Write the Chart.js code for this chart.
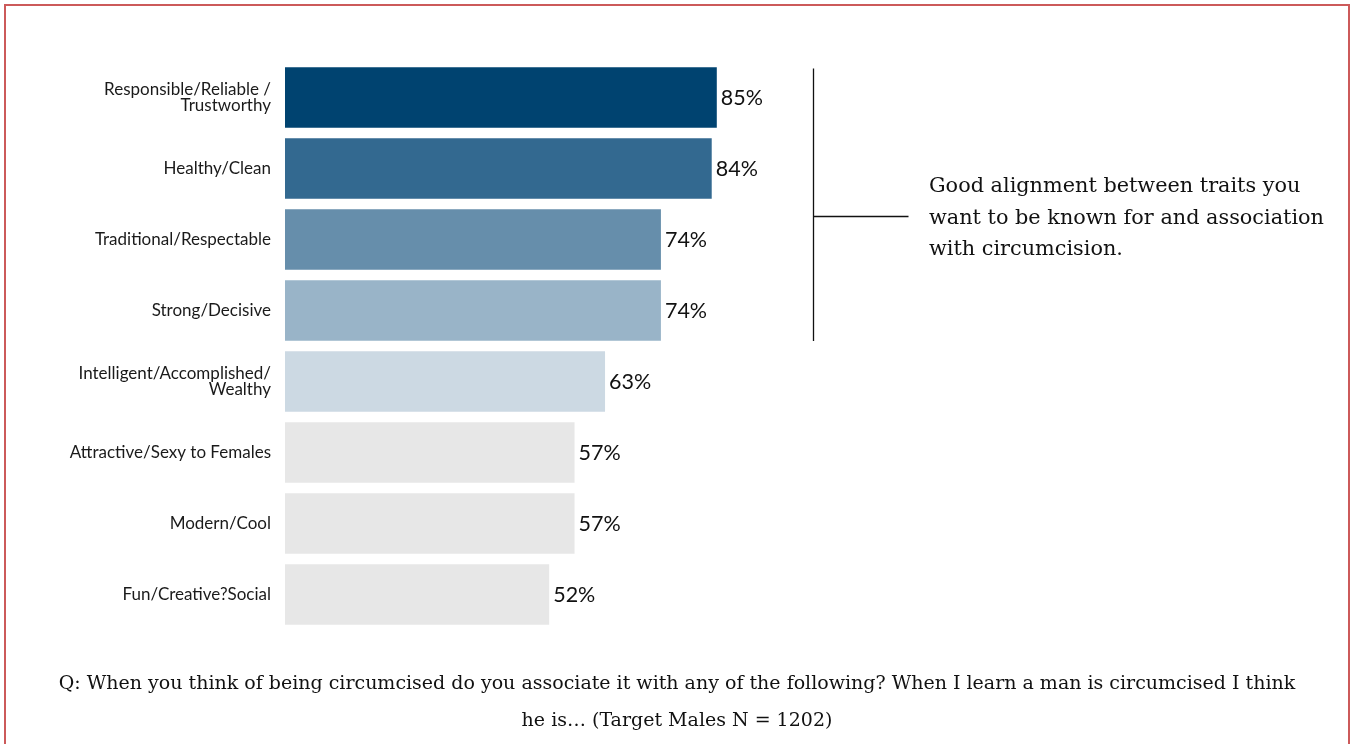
<!DOCTYPE html>
<html>
<head>
<meta charset="utf-8">
<script src="https://cdn.jsdelivr.net/npm/chart.js@4.4.0/dist/chart.umd.min.js"></script>
<style>
  html, body { margin: 0; padding: 0; background: #fff; }
  body { width: 1354px; height: 744px; position: relative; overflow: hidden; }
  #frame { position: absolute; left: 4px; top: 4px; width: 1346px; height: 800px; border: 2px solid #cc5a5a; box-sizing: border-box; }
  #wrap { position: absolute; left: 0; top: 0; width: 1354px; height: 744px; }
  #note { position: absolute; left: 929px; top: 170px; width: 420px; font-family: "DejaVu Serif", serif; font-size: 20.8px; line-height: 31.5px; color: #111; }
  #caption { position: absolute; left: 0; top: 664px; width: 1354px; text-align: center; font-family: "DejaVu Serif", serif; font-size: 19px; line-height: 37px; color: #111; }
</style>
</head>
<body>
<div id="frame"></div>
<div id="wrap"><canvas id="grafico" width="1354" height="744"></canvas></div>
<div id="note">Good alignment between traits you<br>want to be known for and association<br>with circumcision.</div>
<div id="caption">Q: When you think of being circumcised do you associate it with any of the following? When I learn a man is circumcised I think<br>he is… (Target Males N = 1202)</div>
<script>
// Dados do gráfico
const categorias = [
  ["Responsible/Reliable /", "Trustworthy"],
  "Healthy/Clean",
  "Traditional/Respectable",
  "Strong/Decisive",
  ["Intelligent/Accomplished/", "Wealthy"],
  "Attractive/Sexy to Females",
  "Modern/Cool",
  "Fun/Creative?Social"
];
const valores = [85, 84, 74, 74, 63, 57, 57, 52];
const cores = ["#004370", "#336990", "#668eab", "#99b4c8", "#ccd9e3", "#e7e7e7", "#e7e7e7", "#e7e7e7"];

// Rótulos de valor no fim das barras
const rotulos = {
  id: 'rotulos',
  afterDatasetsDraw(chart) {
    const ctx = chart.ctx;
    const meta = chart.getDatasetMeta(0);
    ctx.save();
    ctx.font = '21.5px Lato';
    ctx.fillStyle = '#111';
    ctx.textAlign = 'left';
    ctx.textBaseline = 'middle';
    meta.data.forEach((bar, i) => {
      ctx.fillText(valores[i] + '%', bar.x + 4, bar.y + 1);
    });
    ctx.restore();
  }
};

// Colchete de destaque (primeiros quatro itens)
const colchete = {
  id: 'colchete',
  afterDraw(chart) {
    const ctx = chart.ctx;
    const y = chart.scales.y;
    const x = chart.scales.x;
    const passo = y.getPixelForValue(1) - y.getPixelForValue(0);
    const topo = y.getPixelForValue(0) - passo * 0.41;
    const base = y.getPixelForValue(3) + passo * 0.43;
    const xl = Math.round(x.getPixelForValue(103.9)) + 0.5;
    const meio = Math.round(topo + (base - topo) * 0.54) + 0.5;
    ctx.save();
    ctx.strokeStyle = '#111';
    ctx.lineWidth = 1.3;
    ctx.beginPath();
    ctx.moveTo(xl, topo);
    ctx.lineTo(xl, base);
    ctx.moveTo(xl, meio);
    ctx.lineTo(xl + 95, meio);
    ctx.stroke();
    ctx.restore();
  }
};

new Chart(document.getElementById('grafico'), {
  type: 'bar',
  data: {
    labels: categorias,
    datasets: [{
      data: valores,
      backgroundColor: cores,
      borderWidth: 0,
      categoryPercentage: 0.85,
      barPercentage: 1
    }]
  },
  options: {
    indexAxis: 'y',
    responsive: false,
    animation: false,
    layout: { padding: { top: 62, bottom: 114, left: 0, right: 561 } },
    plugins: { legend: { display: false }, tooltip: { enabled: false } },
    scales: {
      x: { min: 0, max: 100, display: false },
      y: {
        afterFit(scale) { scale.width = 285; },
        grid: { display: false, drawTicks: false },
        border: { display: false },
        ticks: { color: '#1a1a1a', padding: 14, font: { family: 'Lato', size: 17, lineHeight: 0.9 } }
      }
    }
  },
  plugins: [rotulos, colchete]
});
</script>
</body>
</html>
